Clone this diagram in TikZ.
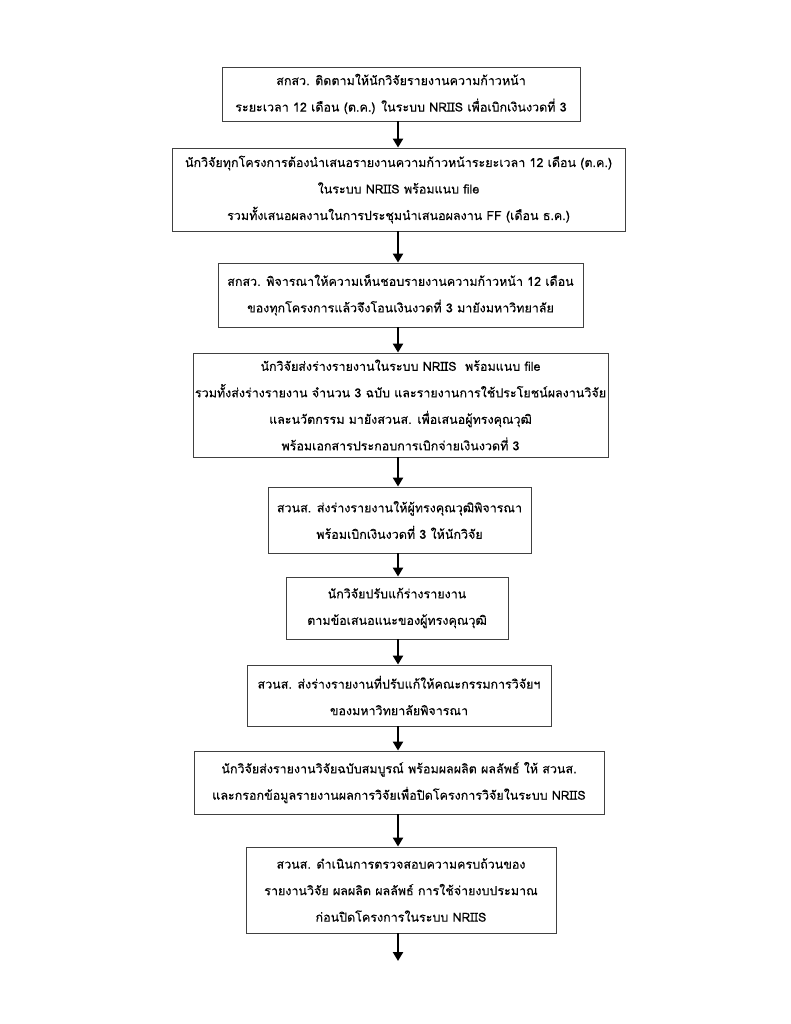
\documentclass[tikz,border=0pt]{standalone}
\usepackage{fontspec}
\newfontfamily\thaifont[Script=Thai,FakeBold=0.15]{Loma}
\usetikzlibrary{arrows.meta}
\begin{document}
\begin{tikzpicture}[x=1pt,y=-1pt,
  box/.style={draw=black!75, line width=0.9pt, align=center, inner sep=0pt,
    font=\thaifont\fontsize{12.5}{26.5}\selectfont},
  arr/.style={line width=2.6pt, -{Triangle[length=9pt,width=10pt]}}]
\useasboundingbox[fill=white] (0,0) rectangle (791,1024);
\coordinate (axis) at (398,0);
\node[box, minimum width=358pt, minimum height=54pt] (b1) at (401,94)
  {สกสว. ติดตามให้นักวิจัยรายงานความก้าวหน้า\\ระยะเวลา 12 เดือน (ต.ค.) ในระบบ NRIIS เพื่อเบิกเงินงวดที่ 3};
\node[box, minimum width=453pt, minimum height=83pt] (b2) at (398.5,189.5)
  {นักวิจัยทุกโครงการต้องนำเสนอรายงานความก้าวหน้าระยะเวลา 12 เดือน (ต.ค.)\\ในระบบ NRIIS พร้อมแนบ file\\รวมทั้งเสนอผลงานในการประชุมนำเสนอผลงาน FF (เดือน ธ.ค.)};
\node[box, minimum width=365pt, minimum height=64pt] (b3) at (400.5,295)
  {สกสว. พิจารณาให้ความเห็นชอบรายงานความก้าวหน้า 12 เดือน\\ของทุกโครงการแล้วจึงโอนเงินงวดที่ 3 มายังมหาวิทยาลัย};
\node[box, minimum width=415pt, minimum height=104pt] (b4) at (400.5,405)
  {นักวิจัยส่งร่างรายงานในระบบ NRIIS\ \ พร้อมแนบ file\\รวมทั้งส่งร่างรายงาน จำนวน 3 ฉบับ และรายงานการใช้ประโยชน์ผลงานวิจัย\\และนวัตกรรม มายังสวนส. เพื่อเสนอผู้ทรงคุณวุฒิ\\พร้อมเอกสารประกอบการเบิกจ่ายเงินงวดที่ 3};
\node[box, minimum width=263pt, minimum height=66pt] (b5) at (399.5,520)
  {สวนส. ส่งร่างรายงานให้ผู้ทรงคุณวุฒิพิจารณา\\พร้อมเบิกเงินงวดที่ 3 ให้นักวิจัย};
\node[box, minimum width=222pt, minimum height=62pt] (b6) at (397,608)
  {นักวิจัยปรับแก้ร่างรายงาน\\ตามข้อเสนอแนะของผู้ทรงคุณวุฒิ};
\node[box, minimum width=304pt, minimum height=61pt] (b7) at (399,695.5)
  {สวนส. ส่งร่างรายงานที่ปรับแก้ให้คณะกรรมการวิจัยฯ\\ของมหาวิทยาลัยพิจารณา};
\node[box, minimum width=410pt, minimum height=63pt] (b8) at (399,782.5)
  {นักวิจัยส่งรายงานวิจัยฉบับสมบูรณ์ พร้อมผลผลิต ผลลัพธ์ ให้ สวนส.\\และกรอกข้อมูลรายงานผลการวิจัยเพื่อปิดโครงการวิจัยในระบบ NRIIS};
\node[box, minimum width=310pt, minimum height=86pt] (b9) at (401,890)
  {สวนส. ดำเนินการตรวจสอบความครบถ้วนของ\\รายงานวิจัย ผลผลิต ผลลัพธ์ การใช้จ่ายงบประมาณ\\ก่อนปิดโครงการในระบบ NRIIS};
\coordinate (end) at (398,961);
\foreach \a/\b in {b1/b2,b2/b3,b3/b4,b4/b5,b5/b6,b6/b7,b7/b8,b8/b9}
  \draw[arr] (\a.south -| axis) -- (\b.north -| axis);
\draw[arr] (b9.south -| axis) -- (end);
\end{tikzpicture}
\end{document}
